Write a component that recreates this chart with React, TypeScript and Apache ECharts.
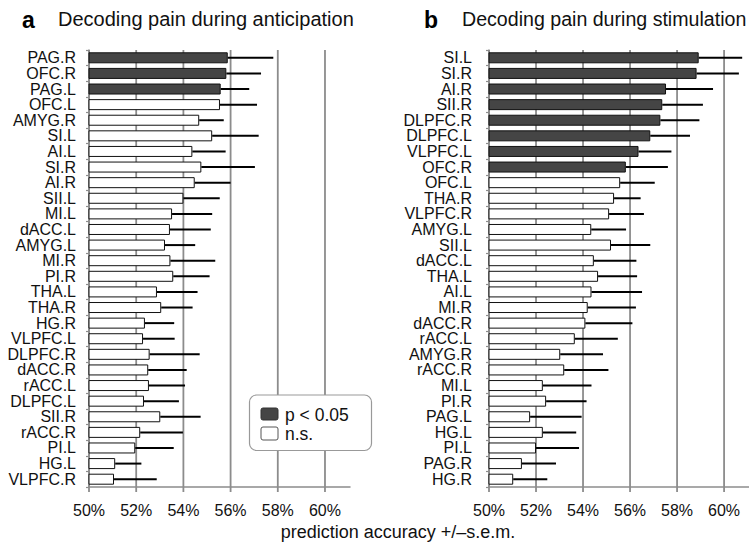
import React, { useEffect, useRef } from "react";
import * as echarts from "echarts";

const leftRegions = ["PAG.R","OFC.R","PAG.L","OFC.L","AMYG.R","SI.L","AI.L","SI.R","AI.R","SII.L","MI.L","dACC.L","AMYG.L","MI.R","PI.R","THA.L","THA.R","HG.R","VLPFC.L","DLPFC.R","dACC.R","rACC.L","DLPFC.L","SII.R","rACC.R","PI.L","HG.L","VLPFC.R"];
const leftMean = [55.88,55.82,55.58,55.55,54.67,55.22,54.38,54.76,54.48,54.0,53.52,53.43,53.22,53.45,53.57,52.88,53.06,52.37,52.29,52.57,52.51,52.54,52.33,53.02,52.17,51.96,51.11,51.06];
const leftUpper = [57.81,57.29,56.79,57.12,55.71,57.19,55.79,57.03,56.0,55.54,55.22,55.16,54.5,55.35,55.11,54.6,54.39,53.61,53.63,54.69,54.14,54.07,53.81,54.73,53.98,53.59,52.22,52.87];
const leftSignificantCount = 3;

const rightRegions = ["SI.L","SI.R","AI.R","SII.R","DLPFC.R","DLPFC.L","VLPFC.L","OFC.R","OFC.L","THA.R","VLPFC.R","AMYG.L","SII.L","dACC.L","THA.L","AI.L","MI.R","dACC.R","rACC.L","AMYG.R","rACC.R","MI.L","PI.R","PAG.L","HG.L","PI.L","PAG.R","HG.R"];
const rightMean = [58.92,58.83,57.53,57.37,57.29,56.86,56.36,55.82,55.58,55.32,55.11,54.35,55.19,54.46,54.64,54.36,54.2,54.1,53.65,53.03,53.2,52.29,52.43,51.75,52.29,52.0,51.4,51.03];
const rightUpper = [60.77,60.63,59.53,59.1,58.95,58.55,57.76,57.61,57.05,56.45,56.59,55.83,56.86,56.27,56.3,56.51,56.25,56.1,55.48,54.85,55.08,54.36,54.15,53.94,53.71,53.83,52.85,52.48];
const rightSignificantCount = 8;

const xTicks = [50, 52, 54, 56, 58, 60];
const titleA = "Decoding pain during anticipation";
const titleB = "Decoding pain during stimulation";
const xAxisTitle = "prediction accuracy +/\u2013s.e.m.";
const legendLabels = ["p < 0.05", "n.s."];

const FONT = "'Liberation Sans', Arial, Helvetica, sans-serif";
const DARK = "#454545";
const EDGE = "#111111";
const GRID = "#8c8c8c";

export default function App() {
  const ref = useRef<HTMLDivElement>(null);
  useEffect(() => {
    if (!ref.current) return;
    const chart = echarts.init(ref.current, undefined, { renderer: "svg" });

    const panels = [
      { regions: leftRegions, mean: leftMean, upper: leftUpper, sig: leftSignificantCount, left: 89, labelMargin: 13 },
      { regions: rightRegions, mean: rightMean, upper: rightUpper, sig: rightSignificantCount, left: 489, labelMargin: 17 },
    ];

    const grid: any[] = [];
    const xAxis: any[] = [];
    const yAxis: any[] = [];
    const series: any[] = [];

    panels.forEach((p, i) => {
      grid.push({ left: p.left, top: 50, width: 261, height: 437 });
      xAxis.push({
        type: "value",
        gridIndex: i,
        min: 50,
        max: 61.06,
        interval: 2,
        axisLine: { show: true, lineStyle: { color: GRID, width: 1.5 } },
        axisTick: { show: false },
        splitLine: { show: false },
        axisLabel: {
          formatter: "{value}%",
          showMaxLabel: false,
          fontSize: 16,
          fontFamily: FONT,
          color: "#111",
          margin: 15,
        },
      });
      yAxis.push({
        type: "category",
        gridIndex: i,
        inverse: true,
        data: p.regions,
        axisLine: { show: true, lineStyle: { color: GRID, width: 1.5 } },
        axisTick: { show: true, length: 3, interval: 0, lineStyle: { color: GRID, width: 1.2 } },
        axisLabel: { interval: 0, fontSize: 16, fontFamily: FONT, color: "#111", margin: p.labelMargin },
      });
      // gridlines
      series.push({
        type: "custom",
        xAxisIndex: i,
        yAxisIndex: i,
        silent: true,
        z: 1,
        data: xTicks.map((t) => [t]),
        encode: { x: 0 },
        renderItem: (params: any, api: any) => {
          const cs = params.coordSys;
          const x = api.coord([api.value(0), 0])[0];
          return {
            type: "line",
            shape: { x1: x, y1: cs.y, x2: x, y2: cs.y + cs.height + 5 },
            style: { stroke: GRID, lineWidth: 1.8 },
          };
        },
      });
      series.push({
        type: "bar",
        xAxisIndex: i,
        yAxisIndex: i,
        z: 3,
        barWidth: 11,
        data: p.mean.map((v, k) => ({
          value: v,
          itemStyle: { color: k < p.sig ? DARK : "#ffffff", borderColor: EDGE, borderWidth: 1 },
        })),
      });
      series.push({
        type: "custom",
        xAxisIndex: i,
        yAxisIndex: i,
        z: 4,
        silent: true,
        data: p.mean.map((v, k) => [v, k, p.upper[k]]),
        encode: { x: [0, 2], y: 1 },
        renderItem: (params: any, api: any) => {
          const a = api.coord([api.value(0), api.value(1)]);
          const b = api.coord([api.value(2), api.value(1)]);
          return {
            type: "line",
            shape: { x1: a[0], y1: a[1], x2: b[0], y2: b[1] },
            style: { stroke: "#000", lineWidth: 2 },
          };
        },
      });
    });

    const graphic: any[] = [
      { type: "text", left: 22, top: 8, style: { text: "a", font: `bold 23px ${FONT}`, fill: "#000" } },
      { type: "text", left: 58, top: 9, style: { text: titleA, font: `20px ${FONT}`, fill: "#111" } },
      { type: "text", left: 424, top: 8, style: { text: "b", font: `bold 23px ${FONT}`, fill: "#000" } },
      { type: "text", left: 462, top: 9, style: { text: titleB, font: `19.6px ${FONT}`, fill: "#111" } },
      {
        type: "text",
        x: 398,
        y: 532,
        style: { text: xAxisTitle, font: `18px ${FONT}`, fill: "#111", align: "center", verticalAlign: "middle" },
      },
      {
        type: "rect",
        shape: { x: 249.5, y: 395, width: 122, height: 55.5, r: 7 },
        style: { fill: "#fff", stroke: "#999", lineWidth: 1.2 },
        z: 10,
      },
      {
        type: "rect",
        shape: { x: 261, y: 408, width: 17, height: 12, r: 2 },
        style: { fill: DARK, stroke: "#333", lineWidth: 1 },
        z: 11,
      },
      {
        type: "rect",
        shape: { x: 261, y: 427, width: 17, height: 13, r: 2 },
        style: { fill: "#fff", stroke: "#555", lineWidth: 1 },
        z: 11,
      },
      {
        type: "text",
        x: 285,
        y: 414.5,
        style: { text: legendLabels[0], font: `17.5px ${FONT}`, fill: "#111", verticalAlign: "middle" },
        z: 11,
      },
      {
        type: "text",
        x: 285,
        y: 433.5,
        style: { text: legendLabels[1], font: `17.5px ${FONT}`, fill: "#111", verticalAlign: "middle" },
        z: 11,
      },
    ];

    chart.setOption({
      animation: false,
      backgroundColor: "#ffffff",
      textStyle: { fontFamily: FONT },
      grid,
      xAxis,
      yAxis,
      series,
      graphic,
    });
    return () => chart.dispose();
  }, []);

  return (
    <div
      ref={ref}
      style={{ position: "absolute", left: 0, top: 0, width: 749, height: 549, background: "#fff" }}
    />
  );
}
